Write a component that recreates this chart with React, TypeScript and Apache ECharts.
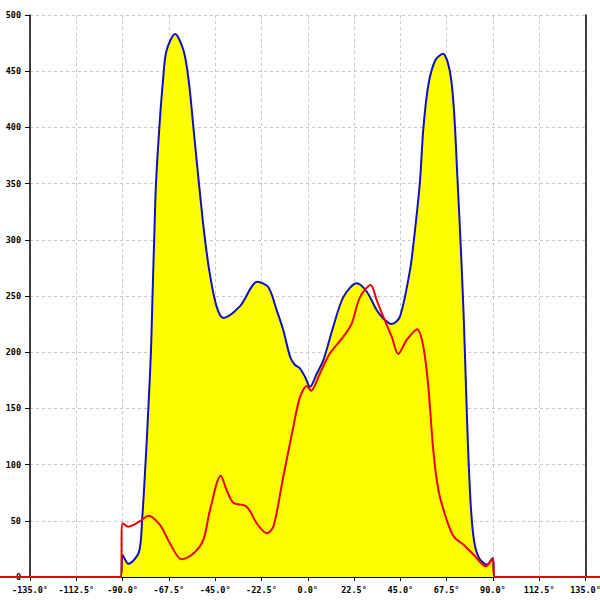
import React, { useEffect, useRef } from "react";
import * as echarts from "echarts";

const xTicks = { min: -135, max: 135, step: 22.5 };
const yTicks = { min: 0, max: 500, step: 50 };
const dataRange = { min: -150, max: 150 };

const blueAngles = [-150, -91, -90, -87.2, -82.1, -80.5, -78.8, -77.5, -76.2, -75.4, -74.6, -73.8, -72.1, -70.4, -68.7, -64.5, -60.3, -57.8, -55.3, -52.8, -50.3, -47.8, -44.4, -41.0, -32.9, -24.5, -19.2, -15.1, -11.9, -8.6, -6.2, -3.8, -1.3, 1.1, 4.4, 7.6, 12.4, 17.3, 23.8, 28.7, 33.5, 36.7, 40.8, 44.8, 49.7, 51.6, 54.5, 56.2, 58.7, 62.0, 65.7, 69.0, 71.0, 72.7, 74.3, 75.7, 76.8, 77.9, 79.3, 80.9, 83.4, 87.2, 89.9, 90.8, 150];
const blueValues = [0, 0, 19.6, 11.7, 21.9, 51, 103, 149, 201, 253.5, 302.6, 348.6, 400.7, 440.7, 468, 483, 468, 440.7, 394.7, 348.6, 305.7, 271.9, 241.2, 230.5, 241, 262.7, 258, 237.5, 219.7, 196, 188.6, 185.7, 178, 169.3, 181, 193, 222.7, 249, 261.3, 253.8, 237.5, 230, 225, 231.6, 273, 300, 351, 399.4, 438.6, 459.7, 465.6, 450.6, 417.4, 357, 296.8, 236.5, 176, 115.8, 61.6, 31.4, 16.4, 11, 17, 0, 0];

const redAngles = [-150, -91, -90, -87.2, -80.7, -77.5, -71.8, -67.0, -61.3, -55.6, -50.8, -47.5, -42.3, -39.4, -36.2, -29.7, -24.8, -20.0, -16.7, -11.9, -7.0, -3.8, -0.5, 1.6, 5.9, 10.8, 17.3, 21.4, 25.4, 30.6, 33.5, 36.7, 40.8, 44.0, 48.1, 53.2, 56.2, 58.6, 61.0, 63.5, 67.5, 71.0, 75.9, 80.9, 86.6, 89.9, 90.9, 150];
const redValues = [0, 0, 47.8, 44.8, 50.7, 54.6, 46.3, 30, 15.7, 21, 32.9, 59.6, 90, 77.4, 66.1, 62.6, 47.8, 38.9, 44.8, 89.2, 133.7, 160, 170, 165.7, 181, 199, 213.8, 225.7, 249, 259.8, 246.4, 231.6, 213.8, 198.4, 210.9, 220.4, 204.9, 169.3, 113, 77.4, 51, 35.9, 28.5, 19.3, 9.5, 16.5, 0, 0];

const labelFont = {
  fontFamily: "DejaVu Sans Mono",
  fontSize: 8.5,
  fontWeight: "bold" as const,
  color: "#000",
};

const W = 600;
const gridLeft = 30;
const gridRight = 14.5;
const plotW = W - gridLeft - gridRight;
const pxPerDeg = plotW / (xTicks.max - xTicks.min);
const zeroPx = gridLeft + (0 - xTicks.min) * pxPerDeg;

export default function App() {
  const ref = useRef<HTMLDivElement>(null);
  useEffect(() => {
    if (!ref.current) return;
    const chart = echarts.init(ref.current, undefined, { renderer: "svg" });
    const blueData = blueAngles.map((a, i) => [a, blueValues[i]]);
    const redData = redAngles.map((a, i) => [a, redValues[i]]);
    const dataLeft = zeroPx + dataRange.min * pxPerDeg;
    const dataRight = W - (zeroPx + dataRange.max * pxPerDeg);
    const split = { show: true, lineStyle: { color: "#c8c8c8", type: [3, 3], width: 1 } };
    chart.setOption({
      animation: false,
      backgroundColor: "#fff",
      grid: [
        { left: gridLeft, right: gridRight, top: 15, bottom: 23, containLabel: false, outerBoundsMode: "none" },
        { left: dataLeft, right: dataRight, top: 15, bottom: 23, containLabel: false, outerBoundsMode: "none" },
      ],
      xAxis: [
        {
          type: "value",
          gridIndex: 0,
          min: xTicks.min,
          max: xTicks.max,
          interval: xTicks.step,
          axisLine: { show: true, onZero: false, lineStyle: { color: "#000", width: 1 } },
          axisTick: { show: true, length: 4, lineStyle: { color: "#000" } },
          axisLabel: {
            ...labelFont,
            margin: 8,
            formatter: (v: number) => v.toFixed(1) + "°",
          },
          splitLine: split,
        },
        {
          type: "value",
          gridIndex: 1,
          min: dataRange.min,
          max: dataRange.max,
          show: false,
        },
      ],
      yAxis: [
        {
          type: "value",
          gridIndex: 0,
          min: yTicks.min,
          max: yTicks.max,
          interval: yTicks.step,
          axisLine: { show: true, onZero: false, lineStyle: { color: "#000", width: 1.5 } },
          axisTick: { show: true, length: 5, lineStyle: { color: "#000" } },
          axisLabel: { ...labelFont, margin: 9 },
          splitLine: split,
        },
        {
          type: "value",
          gridIndex: 0,
          position: "right",
          min: yTicks.min,
          max: yTicks.max,
          interval: yTicks.step,
          axisLine: { show: true, onZero: false, lineStyle: { color: "#000", width: 1.5 } },
          axisTick: { show: false },
          axisLabel: { show: false },
          splitLine: { show: false },
        },
        {
          type: "value",
          gridIndex: 1,
          min: yTicks.min,
          max: yTicks.max,
          show: false,
        },
      ],
      series: [
        {
          type: "line",
          xAxisIndex: 1,
          yAxisIndex: 2,
          data: blueData,
          smooth: 0.3,
          symbol: "none",
          lineStyle: { color: "#1010c0", width: 2 },
          areaStyle: { color: "#ffff00", opacity: 1 },
          z: 2,
        },
        {
          type: "line",
          xAxisIndex: 1,
          yAxisIndex: 2,
          data: redData,
          smooth: 0.3,
          symbol: "none",
          lineStyle: { color: "#ee0000", width: 2 },
          z: 3,
        },
      ],
    });
    return () => chart.dispose();
  }, []);
  return (
    <div
      ref={ref}
      style={{ position: "fixed", left: 0, top: 0, width: 600, height: 600 }}
    />
  );
}
